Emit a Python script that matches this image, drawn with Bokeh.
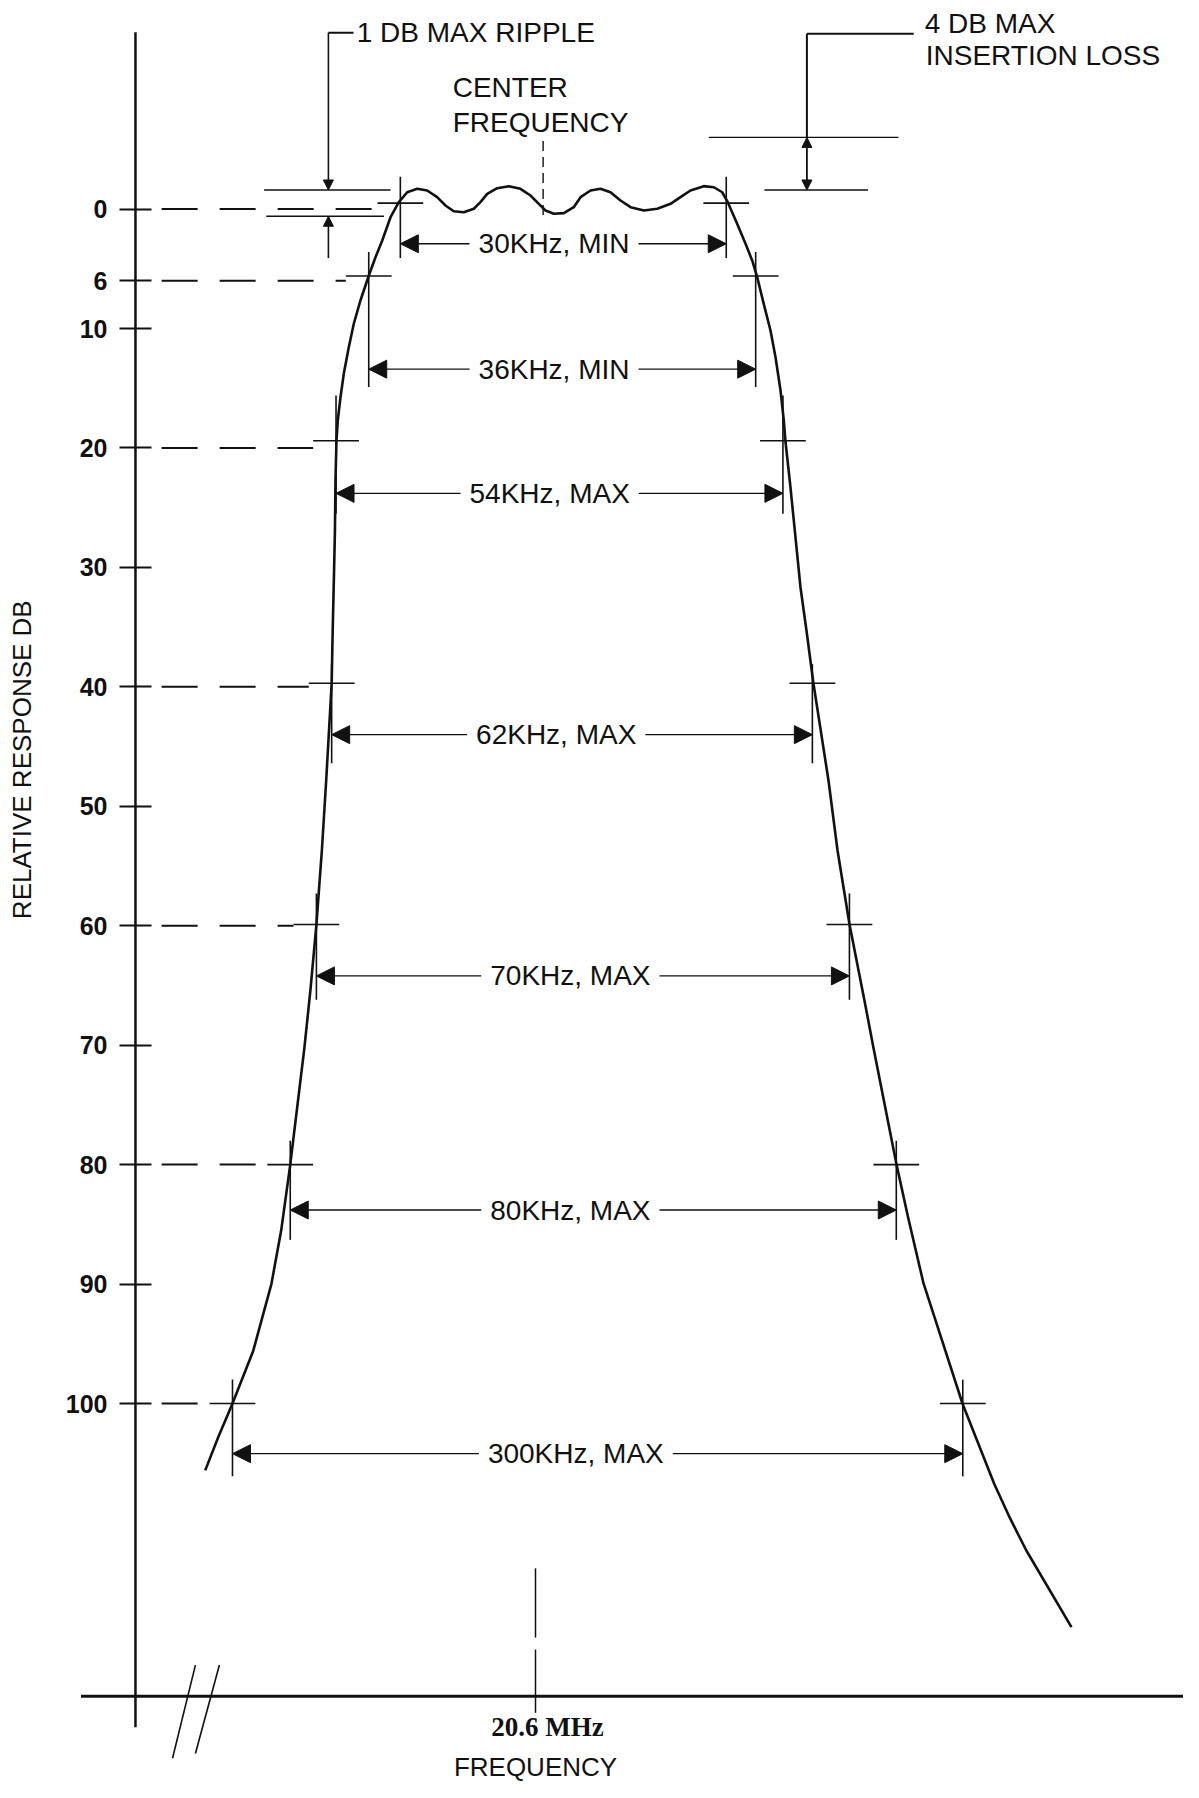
import math
from bokeh.plotting import figure
from bokeh.models import ColumnDataSource, Range1d, LinearAxis, FixedTicker, Arrow, NormalHead
from bokeh.core.properties import value
from bokeh.embed import file_html
from bokeh.resources import INLINE

# ---------------- data ----------------
# x: frequency offset from 20.6 MHz (kHz, as drawn), y: relative response (dB)
Y_TICKS = [0, 6, 10, 20, 30, 40, 50, 60, 70, 80, 90, 100]

LEVELS_DB = [0, 6, 20, 40, 60, 80, 100]
CROSS_DB = [-0.5, 5.6, 19.4, 39.7, 59.9, 80.0, 100.0]
BW_LABELS = ["30KHz, MIN", "36KHz, MIN", "54KHz, MAX", "62KHz, MAX",
             "70KHz, MAX", "80KHz, MAX", "300KHz, MAX"]
LEFT_EDGE = [-12.4, -15.3, -18.3, -18.7, -20.1, -22.5, -27.8]
RIGHT_EDGE = [17.5, 20.2, 22.7, 25.4, 28.8, 33.1, 39.2]
ARROW_DB = [2.9, 13.4, 23.8, 44.0, 64.2, 83.8, 104.2]
LABEL_X = [1.7, 1.7, 1.3, 1.9, 3.2, 3.2, 3.7]
BAR_TOP_DB = [-2.7, 3.6, 15.6, 38.1, 57.3, 78.0, 98.0]
BAR_BOTTOM_DB = [4.1, 14.9, 25.5, 46.4, 66.2, 86.3, 106.1]

CURVE_KHZ = [-30.3, -29.1, -27.8, -25.9, -24.23, -23.33, -22.5, -21.2, -20.65, -20.1,
             -19.6, -19.2, -18.7, -18.6, -18.5, -18.4, -18.35, -18.26, -18.14, -17.89,
             -17.59, -17.13, -16.67, -16.06, -15.29, -14.68, -14.06, -13.30, -12.54,
             -11.77, -10.85, -9.94, -9.02, -8.26, -7.50, -6.58, -5.66, -5.05, -4.43,
             -3.51, -2.45, -1.38, -0.46, 0.30, 0.92, 1.68, 2.60, 3.51, 4.13,
             5.05, 5.96, 6.88, 7.80, 8.72, 9.94, 11.17, 12.39, 13.30, 14.22,
             15.44, 16.36, 17.13, 17.64,
             18.50, 19.27, 19.88, 20.34, 20.94, 21.56, 22.02, 22.48, 22.78, 22.94,
             23.39, 23.85, 24.31, 24.86, 25.50, 26.88, 27.71, 28.81, 30.18, 31.0,
             33.12, 34.18, 35.6, 37.2, 39.17, 42.07, 43.5, 45.03, 49.17]
CURVE_DB = [105.6, 102.8, 100.0, 95.6, 90.0, 85.5, 80.0, 70.2, 65.4, 59.9,
            53.7, 47.8, 39.7, 35.0, 31.1, 26.9, 22.7, 19.4, 17.7, 15.75,
            13.79, 11.56, 9.60, 7.65, 5.56, 4.03, 2.63, 0.68, -0.58,
            -1.41, -1.70, -1.56, -1.00, -0.30, 0.18, 0.26, -0.03, -0.58, -1.28,
            -1.75, -1.92, -1.70, -1.14, -0.44, 0.12, 0.39, 0.34, -0.16, -1.00,
            -1.56, -1.70, -1.41, -0.72, -0.16, 0.12, -0.03, -0.44, -1.00, -1.56,
            -1.92, -1.83, -1.41, -0.58,
            1.23, 2.91, 4.30, 5.70, 7.93, 10.16, 12.40, 15.19, 17.70, 19.52,
            23.28, 27.47, 31.66, 35.28, 39.72, 47.84, 53.70, 59.90, 66.26, 70.19,
            79.99, 84.40, 89.95, 94.45, 100.0, 106.70, 109.54, 112.31, 118.73]

# ripple and insertion-loss callouts
RIPPLE_LINE_DB = [-1.6, 0.6]
RIPPLE_LINE_X0 = [-24.9, -24.7]
RIPPLE_LINE_X1 = [-13.3, -13.9]
RIPPLE_ARROW_X = -19.0
RIPPLE_LEADER_DB = -14.76
RIPPLE_LEADER_END_X = -16.7
RIPPLE_LOW_ARROW_FROM_DB = 4.1

IL_LINE_DB = [-6.0, -1.6]
IL_LINE_X0 = [15.9, 21.0]
IL_LINE_X1 = [33.3, 30.5]
IL_ARROW_X = 24.9
IL_LEADER_DB = -14.68
IL_LEADER_END_X = 34.7

CENTER_LINE_X = 0.7
CENTER_LINE_DB = [-5.7, 1.2]
CENTER_TICK_DB = [[113.8, 119.6], [120.6, 125.9]]

Y_AXIS_X = -36.7
Y_AXIS_DB = [-14.8, 127.1]
X_AXIS_DB = 124.5
X_AXIS_START = -41.7
BREAK_X = [[-31.2, -33.3], [-29.0, -31.2]]
BREAK_DB = [[121.9, 129.7], [121.9, 129.3]]

# ---------------- figure layout ----------------
W, H = 1183, 1782
PX_PER_KHZ = 10.9
PX_PER_DB = 11.944
CENTER_PX = 535.0
ZERO_DB_PX = 208.6

x_range = Range1d(-CENTER_PX / PX_PER_KHZ, (W - CENTER_PX) / PX_PER_KHZ)
y_range = Range1d((H - ZERO_DB_PX) / PX_PER_DB, -ZERO_DB_PX / PX_PER_DB)

p = figure(width=W, height=H, x_range=x_range, y_range=y_range,
           x_axis_type=None, y_axis_type=None, title=None,
           output_backend="svg", toolbar_location=None, min_border=0)
p.outline_line_color = None
p.background_fill_color = "white"
p.border_fill_color = "white"

SANS = value("Liberation Sans")
INK = "#111111"

# y axis (ticks + labels) at the drawn axis position
yaxis = LinearAxis(fixed_location=Y_AXIS_X, ticker=FixedTicker(ticks=Y_TICKS))
yaxis.axis_line_color = None
yaxis.major_tick_in = 16
yaxis.major_tick_out = 16
yaxis.major_tick_line_width = 2
yaxis.major_tick_line_color = INK
yaxis.minor_tick_line_color = None
yaxis.major_label_text_font = "Liberation Sans"
yaxis.major_label_text_font_size = "25px"
yaxis.major_label_text_font_style = "bold"
yaxis.major_label_text_color = INK
yaxis.major_label_standoff = 12
p.add_layout(yaxis, "left")

# axis lines
p.segment(x0=[Y_AXIS_X], y0=[Y_AXIS_DB[0]], x1=[Y_AXIS_X], y1=[Y_AXIS_DB[1]],
          line_width=2.5, line_color=INK)
p.segment(x0=[X_AXIS_START], y0=[X_AXIS_DB], x1=[x_range.end], y1=[X_AXIS_DB],
          line_width=3, line_color=INK)
for bx, by in zip(BREAK_X, BREAK_DB):
    p.line(bx, by, line_width=1.6, line_color=INK)
for seg in CENTER_TICK_DB:
    p.line([0, 0], seg, line_width=1.5, line_color=INK)

# dashed level lines from axis to the curve
CROSS = 2.1
DASH_START = Y_AXIS_X + 2.4
p.segment(x0=[DASH_START] * len(LEVELS_DB), y0=LEVELS_DB,
          x1=[e - CROSS for e in LEFT_EDGE], y1=LEVELS_DB,
          line_width=2, line_color=INK, line_dash="36 22")

# crosshairs and vertical bars at each level
xs0, xs1, ys = [], [], []
for e_l, e_r, lv in zip(LEFT_EDGE, RIGHT_EDGE, CROSS_DB):
    xs0 += [e_l - CROSS, e_r - CROSS]
    xs1 += [e_l + CROSS, e_r + CROSS]
    ys += [lv, lv]
p.segment(x0=xs0, y0=ys, x1=xs1, y1=ys, line_width=1.6, line_color=INK)
p.segment(x0=LEFT_EDGE + RIGHT_EDGE, y0=BAR_TOP_DB + BAR_TOP_DB,
          x1=LEFT_EDGE + RIGHT_EDGE, y1=BAR_BOTTOM_DB + BAR_BOTTOM_DB,
          line_width=1.6, line_color=INK)

# response curve
p.line(CURVE_KHZ, CURVE_DB, line_width=2.6, line_color=INK, line_join="round")

# bandwidth arrows
bw_src = ColumnDataSource(dict(x0=LEFT_EDGE, x1=RIGHT_EDGE, y=ARROW_DB))
p.add_layout(Arrow(x_start="x0", y_start="y", x_end="x1", y_end="y", source=bw_src,
                   line_width=1.4, line_color=INK,
                   start=NormalHead(size=18, fill_color=INK, line_color=INK),
                   end=NormalHead(size=18, fill_color=INK, line_color=INK)))
lbl = p.text(x=LABEL_X, y=ARROW_DB, text=BW_LABELS, text_align="center",
             text_baseline="middle", text_font=SANS, text_font_size="28px",
             text_color=INK, background_fill_color="white", padding=9)
lbl.level = "overlay"

# ripple callout
p.segment(x0=RIPPLE_LINE_X0, y0=RIPPLE_LINE_DB, x1=RIPPLE_LINE_X1, y1=RIPPLE_LINE_DB,
          line_width=1.3, line_color=INK)
p.segment(x0=[RIPPLE_ARROW_X], y0=[RIPPLE_LEADER_DB], x1=[RIPPLE_LEADER_END_X],
          y1=[RIPPLE_LEADER_DB], line_width=2, line_color=INK)
p.add_layout(Arrow(x_start=RIPPLE_ARROW_X, y_start=RIPPLE_LEADER_DB,
                   x_end=RIPPLE_ARROW_X, y_end=RIPPLE_LINE_DB[0],
                   line_width=1.6, line_color=INK,
                   end=NormalHead(size=10, fill_color=INK, line_color=INK)))
p.add_layout(Arrow(x_start=RIPPLE_ARROW_X, y_start=RIPPLE_LOW_ARROW_FROM_DB,
                   x_end=RIPPLE_ARROW_X, y_end=RIPPLE_LINE_DB[1],
                   line_width=1.6, line_color=INK,
                   end=NormalHead(size=10, fill_color=INK, line_color=INK)))
p.text(x=[RIPPLE_LEADER_END_X + 0.3], y=[RIPPLE_LEADER_DB], text=["1 DB MAX RIPPLE"],
       text_align="left", text_baseline="middle", text_font=SANS,
       text_font_size="28px", text_color=INK)

# insertion loss callout
p.segment(x0=IL_LINE_X0, y0=IL_LINE_DB, x1=IL_LINE_X1, y1=IL_LINE_DB,
          line_width=1.3, line_color=INK)
p.segment(x0=[IL_ARROW_X, IL_ARROW_X], y0=[IL_LEADER_DB, IL_LEADER_DB],
          x1=[IL_ARROW_X, IL_LEADER_END_X], y1=[IL_LINE_DB[0], IL_LEADER_DB],
          line_width=2, line_color=INK)
p.add_layout(Arrow(x_start=IL_ARROW_X, y_start=IL_LINE_DB[0],
                   x_end=IL_ARROW_X, y_end=IL_LINE_DB[1],
                   line_width=1.8, line_color=INK,
                   start=NormalHead(size=10, fill_color=INK, line_color=INK),
                   end=NormalHead(size=10, fill_color=INK, line_color=INK)))
p.text(x=[IL_LEADER_END_X + 1.0, IL_LEADER_END_X + 1.1], y=[-15.5, -12.9],
       text=["4 DB MAX", "INSERTION LOSS"], text_align="left", text_baseline="middle",
       text_font=SANS, text_font_size="28px", text_color=INK)

# center frequency marker
p.line([CENTER_LINE_X, CENTER_LINE_X], CENTER_LINE_DB, line_width=1.4,
       line_color=INK, line_dash="10 6")
p.text(x=[-7.6, -7.6], y=[-10.16, -7.28], text=["CENTER", "FREQUENCY"],
       text_align="left", text_baseline="middle", text_font=SANS,
       text_font_size="28px", text_color=INK)

# frequency axis texts
p.text(x=[1.1], y=[127.1], text=["20.6 MHz"], text_align="center",
       text_baseline="middle", text_font=value("Liberation Serif"),
       text_font_size="27px", text_font_style="bold", text_color=INK)
p.text(x=[0.0], y=[130.4], text=["FREQUENCY"], text_align="center",
       text_baseline="middle", text_font=SANS, text_font_size="26px", text_color=INK)
p.text(x=[-47.1], y=[46.1], text=["RELATIVE RESPONSE DB"], angle=math.pi / 2,
       text_align="center", text_baseline="middle", text_font=SANS,
       text_font_size="26px", text_color=INK)

open("out.html", "w").write(file_html(p, INLINE))
